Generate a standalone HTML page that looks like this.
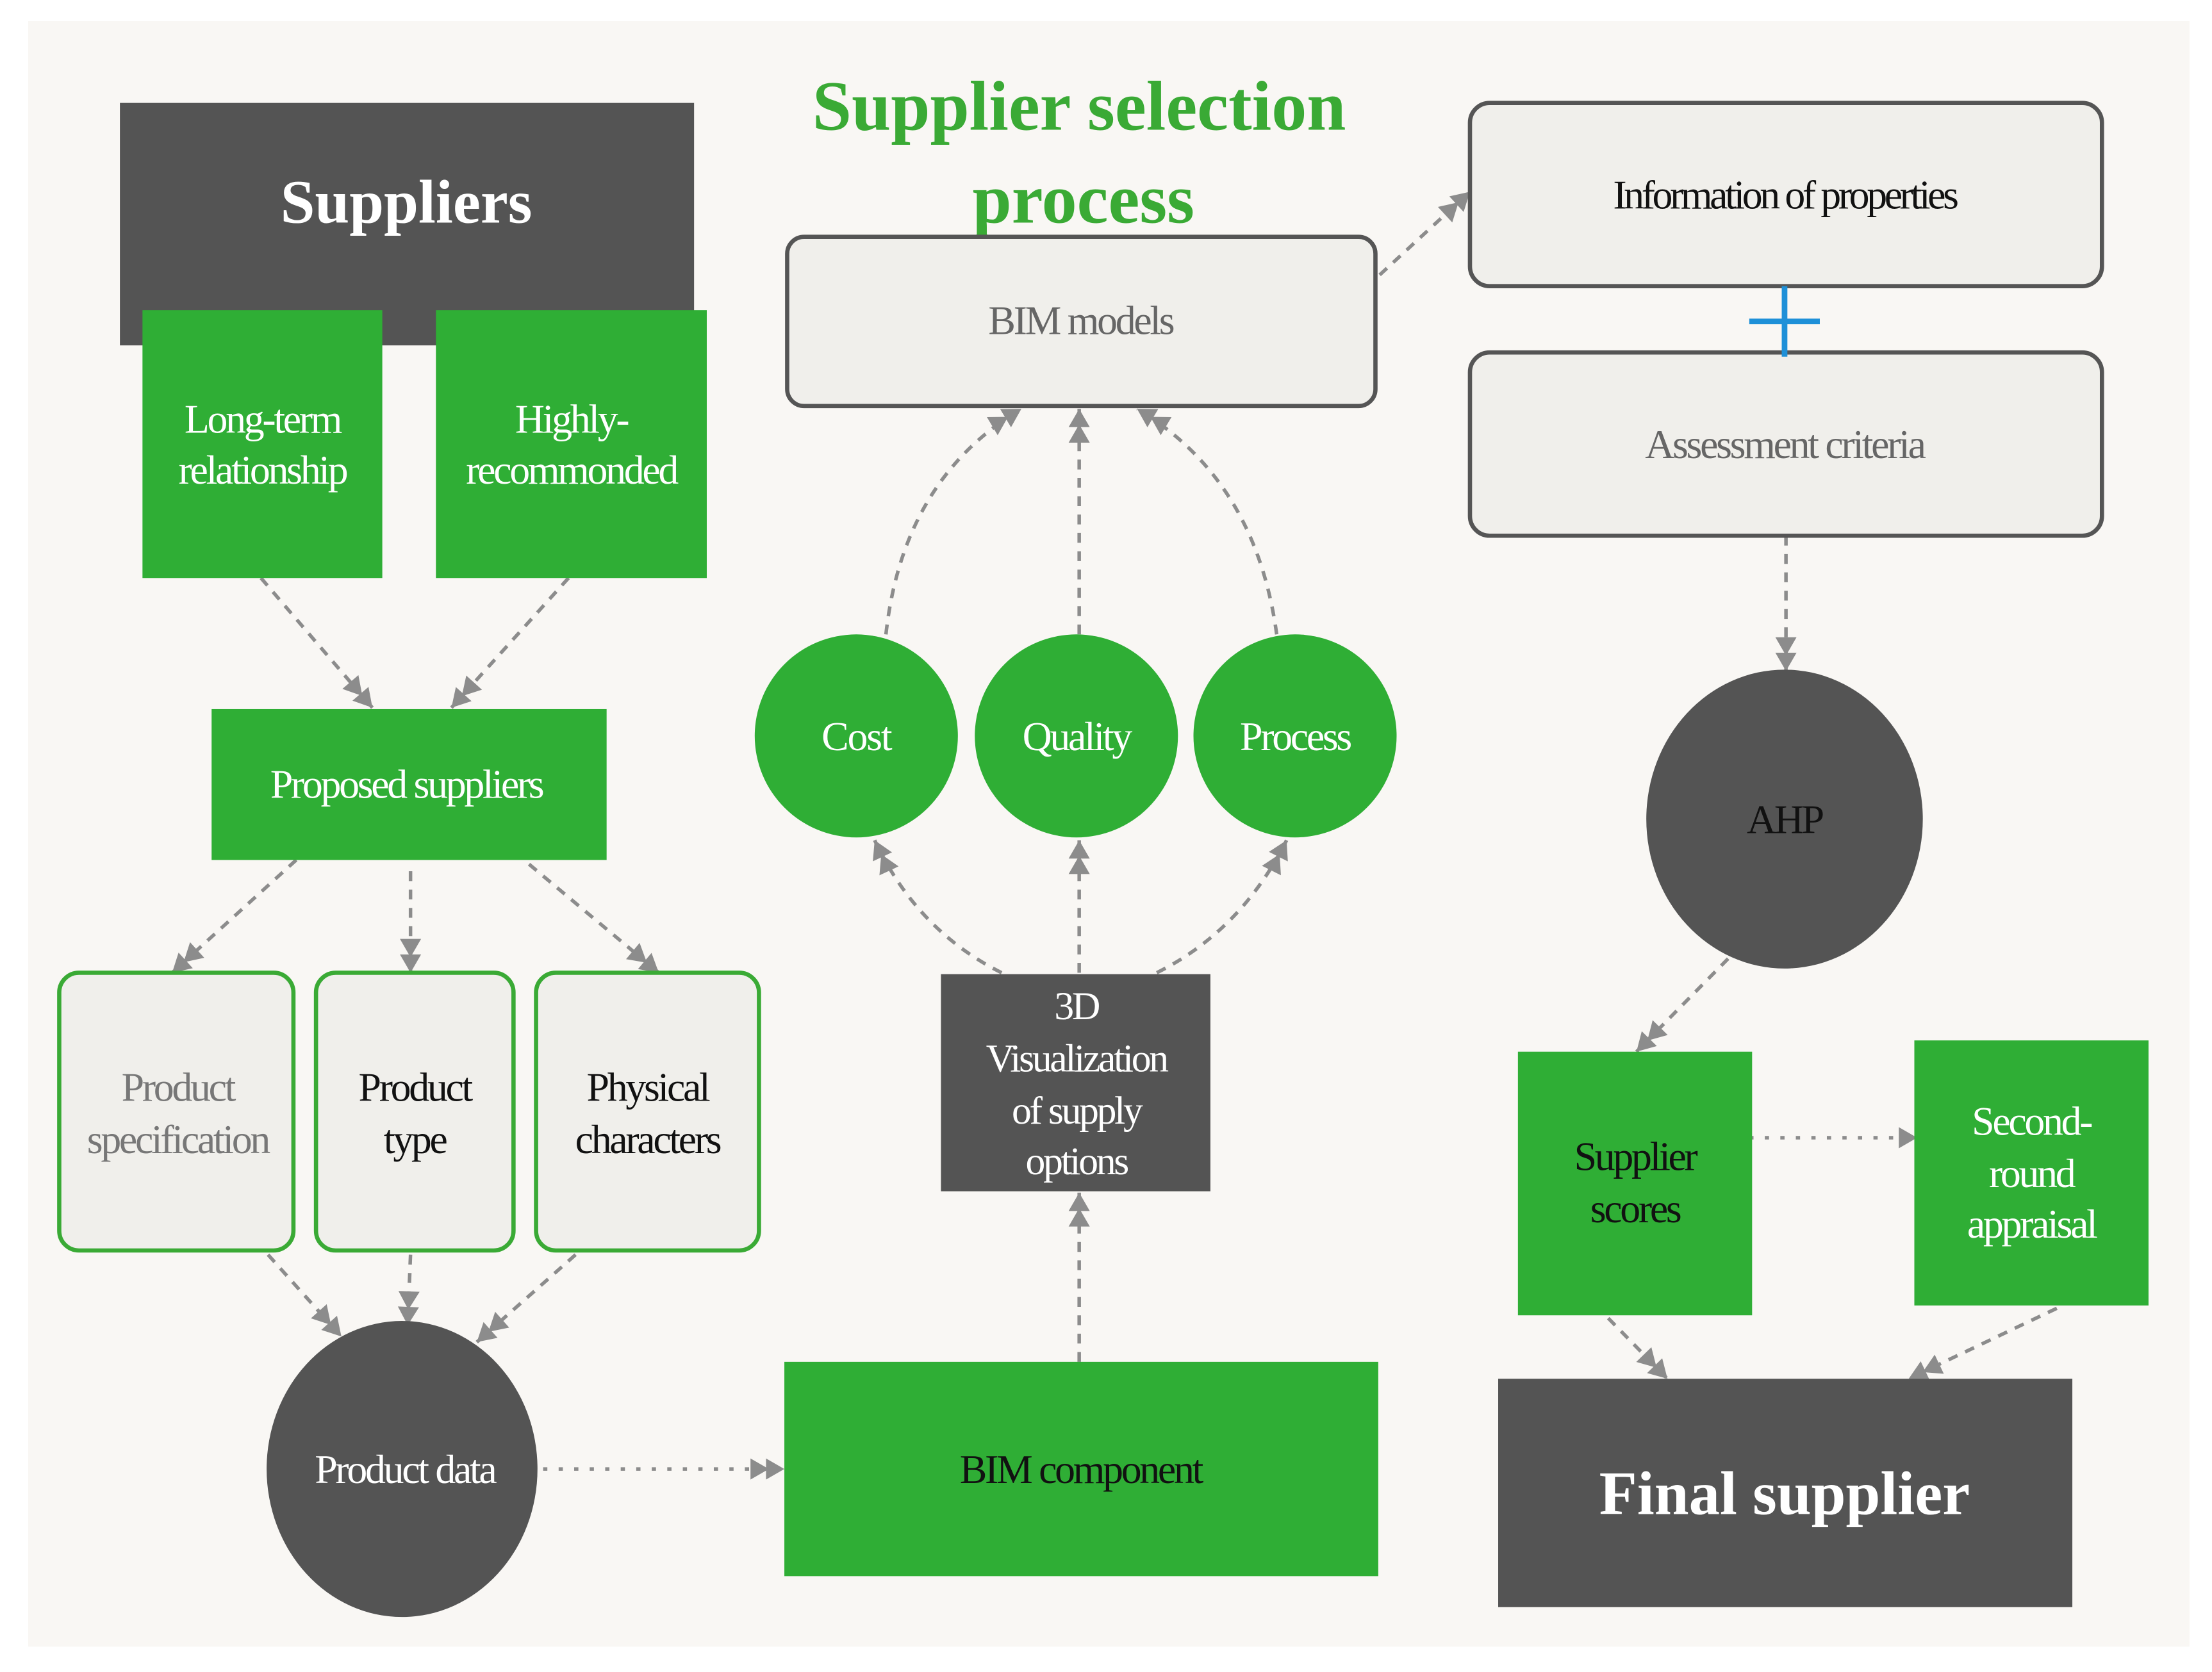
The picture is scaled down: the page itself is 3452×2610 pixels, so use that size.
<!DOCTYPE html>
<html><head><meta charset="utf-8"><style>
html,body{margin:0;padding:0;background:#fff;}
svg{display:block;}
text{font-family:"Liberation Serif",serif;text-anchor:middle;}
</style></head><body>
<svg width="3452" height="2610" viewBox="0 0 1568 1186" preserveAspectRatio="none" xmlns="http://www.w3.org/2000/svg">
<defs>
<marker id="a" markerWidth="30" markerHeight="20" refX="0" refY="0" orient="auto" markerUnits="userSpaceOnUse" style="overflow:visible">
<path d="M-24,-7.5 L-11,0 L-24,7.5 Z M-13,-7.5 L0,0 L-13,7.5 Z" fill="#8c8c8c"/>
</marker>
</defs>
<rect x="0" y="0" width="1568" height="1186" fill="#fff"/>
<rect x="20" y="15" width="1532" height="1153" fill="#f9f7f4"/>

<g stroke="#8c8c8c" stroke-width="2.5" fill="none" stroke-dasharray="7,6" marker-end="url(#a)">
<path d="M185,410 L264,502"/>
<path d="M403,410 L320,502"/>
<path d="M210,610 L122,690"/>
<path d="M291,618 L291,690"/>
<path d="M375,613 L467,690"/>
<path d="M190,890 L242,948"/>
<path d="M291,890 L289,940"/>
<path d="M408,890 L338,952"/>
<path d="M385,1042 L556,1042" stroke-dasharray="3,8"/>
<path d="M765,966 L765,846"/>
<path d="M710,690 Q650,660 620,596"/>
<path d="M765,690 L765,596"/>
<path d="M820,690 Q880,660 912,596"/>
<path d="M628,450 Q640,340 724,290"/>
<path d="M765,450 L765,290"/>
<path d="M905,450 Q890,340 806,290"/>
<path d="M978,195 L1042,136"/>
<path d="M1266,380 L1266,476"/>
<path d="M1225,680 L1160,746"/>
<path d="M1185,807 L1370,807" stroke-dasharray="3,8"/>
<path d="M1140,935 L1182,978"/>
<path d="M1458,928 L1353,978"/>
</g>

<text x="765" y="92" font-size="50" font-weight="bold" fill="#3aaa35">Supplier selection</text>
<text x="768" y="158" font-size="50" font-weight="bold" fill="#3aaa35">process</text>

<rect x="85" y="73" width="407" height="172" fill="#545454"/>
<text x="288" y="158" font-size="44" font-weight="bold" fill="#fff">Suppliers</text>
<rect x="101" y="220" width="170" height="190" fill="#2fae35"/>
<text x="186" y="307" font-size="29" fill="#fff" letter-spacing="-1.5">Long-term</text>
<text x="186" y="343" font-size="29" fill="#fff" letter-spacing="-1.5">relationship</text>
<rect x="309" y="220" width="192" height="190" fill="#2fae35"/>
<text x="405" y="307" font-size="29" fill="#fff" letter-spacing="-1.5">Highly-</text>
<text x="405" y="343" font-size="29" fill="#fff" letter-spacing="-1.5">recommonded</text>

<rect x="150" y="503" width="280" height="107" fill="#2fae35"/>
<text x="288" y="566" font-size="29" fill="#fff" letter-spacing="-1.5">Proposed suppliers</text>

<g fill="#f0efeb" stroke="#3aaa35" stroke-width="3">
<rect x="42" y="690" width="166" height="197" rx="14"/>
<rect x="224" y="690" width="140" height="197" rx="14"/>
<rect x="380" y="690" width="158" height="197" rx="14"/>
</g>
<text x="126" y="781" font-size="29" fill="#777" letter-spacing="-1.5">Product</text>
<text x="126" y="818" font-size="29" fill="#777" letter-spacing="-1.5">specification</text>
<text x="294" y="781" font-size="29" fill="#111" letter-spacing="-1.5">Product</text>
<text x="294" y="818" font-size="29" fill="#111" letter-spacing="-1.5">type</text>
<text x="459" y="781" font-size="29" fill="#111" letter-spacing="-1.5">Physical</text>
<text x="459" y="818" font-size="29" fill="#111" letter-spacing="-1.5">characters</text>

<ellipse cx="285" cy="1042" rx="96" ry="105" fill="#545454"/>
<text x="287" y="1052" font-size="29" fill="#fff" letter-spacing="-1.5">Product data</text>

<rect x="556" y="966" width="421" height="152" fill="#2fae35"/>
<text x="766" y="1052" font-size="29" fill="#111" letter-spacing="-1.5">BIM component</text>

<rect x="558" y="168" width="417" height="120" rx="12" fill="#f0efeb" stroke="#555" stroke-width="3"/>
<text x="766" y="237" font-size="29" fill="#666" letter-spacing="-1.5">BIM models</text>

<circle cx="607" cy="522" r="72" fill="#2fae35"/>
<circle cx="763" cy="522" r="72" fill="#2fae35"/>
<circle cx="918" cy="522" r="72" fill="#2fae35"/>
<text x="607" y="532" font-size="29" fill="#fff" letter-spacing="-1">Cost</text>
<text x="763" y="532" font-size="29" fill="#fff" letter-spacing="-1.5">Quality</text>
<text x="918" y="532" font-size="29" fill="#fff" letter-spacing="-1.5">Process</text>

<rect x="667" y="691" width="191" height="154" fill="#545454"/>
<text x="763" y="723" font-size="28" fill="#fff" letter-spacing="-1.5">3D</text>
<text x="763" y="760" font-size="28" fill="#fff" letter-spacing="-1.5">Visualization</text>
<text x="763" y="797" font-size="28" fill="#fff" letter-spacing="-1.5">of supply</text>
<text x="763" y="833" font-size="28" fill="#fff" letter-spacing="-1.5">options</text>

<rect x="1042" y="73" width="448" height="130" rx="14" fill="#f0efeb" stroke="#555" stroke-width="3"/>
<text x="1265" y="148" font-size="29" fill="#111" letter-spacing="-2">Information of properties</text>
<rect x="1042" y="250" width="448" height="130" rx="14" fill="#f0efeb" stroke="#555" stroke-width="3"/>
<text x="1265" y="325" font-size="29" fill="#666" letter-spacing="-1.5">Assessment criteria</text>
<path d="M1240,228 H1290 M1265,203 V253" stroke="#1e90d8" stroke-width="4"/>

<ellipse cx="1265" cy="581" rx="98" ry="106" fill="#545454"/>
<text x="1265" y="591" font-size="29" fill="#111" letter-spacing="-1.5">AHP</text>

<rect x="1076" y="746" width="166" height="187" fill="#2fae35"/>
<text x="1159" y="830" font-size="29" fill="#111" letter-spacing="-1.5">Supplier</text>
<text x="1159" y="867" font-size="29" fill="#111" letter-spacing="-1.5">scores</text>
<rect x="1357" y="738" width="166" height="188" fill="#2fae35"/>
<text x="1440" y="805" font-size="29" fill="#fff" letter-spacing="-1.5">Second-</text>
<text x="1440" y="842" font-size="29" fill="#fff" letter-spacing="-1.5">round</text>
<text x="1440" y="878" font-size="29" fill="#fff" letter-spacing="-1.5">appraisal</text>

<rect x="1062" y="978" width="407" height="162" fill="#545454"/>
<text x="1265" y="1074" font-size="44" font-weight="bold" fill="#fff">Final supplier</text>
</svg>
</body></html>
